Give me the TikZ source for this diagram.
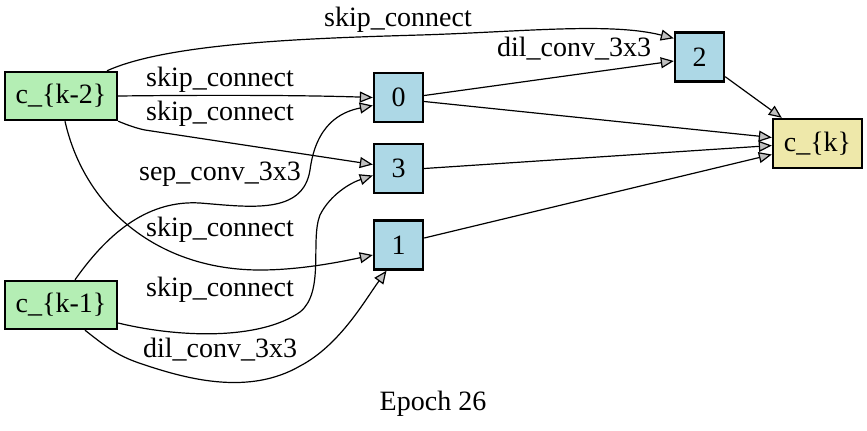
\documentclass[tikz,border=0pt]{standalone}
\usepackage{fontspec}
\setmainfont{Liberation Serif}
\usetikzlibrary{arrows.meta,calc}
\definecolor{kgreen}{HTML}{B4EEB4}
\definecolor{kblue}{HTML}{ADD8E6}
\definecolor{kyellow}{HTML}{EEE8AA}
\definecolor{kgray}{HTML}{C0C0C0}
\begin{document}
\begin{tikzpicture}[x=0.5pt,y=-0.5pt,
  every node/.style={font=\fontsize{14}{16}\selectfont, inner sep=0pt},
  inbox/.style={draw=black, line width=1.2pt, fill=kgreen, minimum width=56pt, minimum height=24pt},
  midbox/.style={draw=black, line width=1.2pt, fill=kblue, minimum width=24.5pt, minimum height=24.5pt},
  outbox/.style={draw=black, line width=1.2pt, fill=kyellow, minimum width=44.5pt, minimum height=24.5pt},
  edge/.style={draw=black, line width=0.6pt, -{Triangle[length=6.5pt,width=5.5pt,fill=kgray]}},
  lbl/.style={}
]
\fill[white] (0,0) rectangle (867,430);
\useasboundingbox (0,0) rectangle (867,430);

\node[inbox] (k2) at (61,96) {c\_\{k-2\}};
\node[inbox] (k1) at (61,305) {c\_\{k-1\}};
\node[midbox] (n0) at (398.5,97.5) {0};
\node[midbox] (n3) at (398.5,168.5) {3};
\node[midbox] (n1) at (398.5,245) {1};
\node[midbox] (n2) at (699.5,57) {2};
\node[outbox] (ck) at (817.5,143.5) {c\_\{k\}};

% c_{k-2} -> 2
\draw[edge] ($(k2.north)+(46,0)$) .. controls (170,42) and (320,38) .. (420,35)
  .. controls (520,32) and (610,22) .. ($(n2.north west)+(0,7)$);
% c_{k-2} -> 0
\draw[edge] (k2.east) .. controls (200,95) and (300,95) .. (n0.west);
% c_{k-2} -> 3
\draw[edge] (k2.south east) .. controls (125,124) and (135,128) .. (145,130)
  -- ($(n3.west)+(0,-4)$);
% c_{k-2} -> 1
\draw[edge] ($(k2.south)+(4,0)$) .. controls (85,210) and (160,270) .. (260,270)
  .. controls (300,270) and (340,262) .. ($(n1.west)+(0,10)$);
% c_{k-1} -> 0
\draw[edge] ($(k1.north)+(14,0)$) .. controls (110,230) and (150,200) .. (200,203)
  .. controls (250,207) and (303,215) .. (310,170)
  .. controls (316,125) and (340,112) .. ($(n0.west)+(0,8)$);
% c_{k-1} -> 3
\draw[edge] ($(k1.east)+(0,18)$) .. controls (180,338) and (260,340) .. (300,312)
  .. controls (325,292) and (310,240) .. (320,215)
  .. controls (330,195) and (350,183) .. ($(n3.west)+(0,7)$);
% c_{k-1} -> 1
\draw[edge] ($(k1.south)+(24,0)$) .. controls (110,350) and (120,357) .. (145,365)
  .. controls (190,380) and (250,395) .. (300,366)
  .. controls (340,345) and (365,300) .. ($(n1.south)+(-12,0)$);
% 0 -> 2
\draw[edge] ($(n0.east)+(0,-2)$) -- ($(n2.west)+(0,4)$);
% 0 -> c_k
\draw[edge] ($(n0.east)+(0,4)$) -- ($(ck.west)+(0,-6)$);
% 3 -> c_k
\draw[edge] (n3.east) -- ($(ck.west)+(0,2)$);
% 1 -> c_k
\draw[edge] ($(n1.east)+(0,-7)$) -- ($(ck.west)+(0,11)$);
% 2 -> c_k
\draw[edge] ($(n2.south east)+(0,-6)$) -- ($(ck.north west)+(10,0)$);

\node[lbl] (l1) at (398,20) {skip\_connect};
\node[lbl] (l2) at (220,80) {skip\_connect};
\node[lbl] (l3) at (220,114) {skip\_connect};
\node[lbl] (l4) at (220,174) {sep\_conv\_3x3};
\node[lbl] (l5) at (220,230) {skip\_connect};
\node[lbl] (l6) at (220,290) {skip\_connect};
\node[lbl] (l7) at (220,350) {dil\_conv\_3x3};
\node[lbl] (l8) at (574,49) {dil\_conv\_3x3};
\node (title) at (433,404) {Epoch 26};
\end{tikzpicture}
\end{document}
